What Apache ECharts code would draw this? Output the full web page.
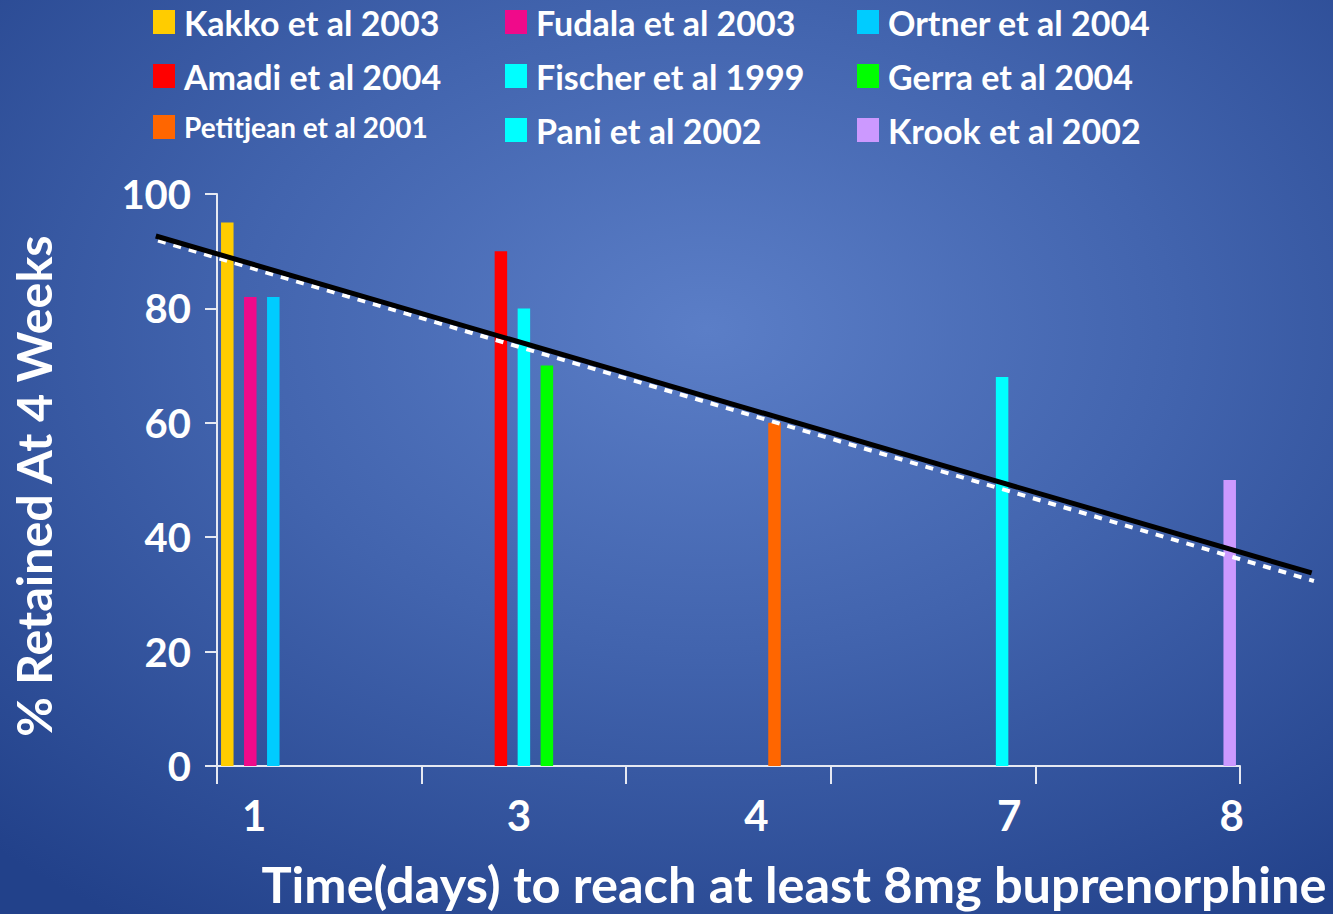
<!DOCTYPE html>
<html>
<head>
<meta charset="utf-8">
<title>Retention at 4 weeks vs. buprenorphine induction speed</title>
<script src="https://cdn.jsdelivr.net/npm/echarts@6.0.0/dist/echarts.min.js"></script>
<style>
  html, body { margin: 0; padding: 0; background: #2c4c93; }
  #chart { width: 1333px; height: 914px; }
</style>
</head>
<body>
<div id="chart"></div>
<script>
// Days needed to reach at least 8 mg buprenorphine (x categories)
const dayCategories = ['1', '3', '4', '7', '8'];

// Studies, in plotting order
const studies = [
  'Kakko et al 2003', 'Fudala et al 2003', 'Ortner et al 2004',
  'Amadi et al 2004', 'Fischer et al 1999', 'Gerra et al 2004',
  'Petitjean et al 2001', 'Pani et al 2002', 'Krook et al 2002'
];
// % retained at 4 weeks for each study
const retained = [95, 82, 82, 90, 80, 70, 60, 68, 50];
// Index into dayCategories for each study
const studyDay = [0, 0, 0, 1, 1, 1, 2, 3, 4];

// Fitted trend lines: endpoints as [position along the day axis, % retained]
// (position 0 = left edge of the first day band, 1 band = 1 unit)
const trendSolid = [[-0.294, 92.7], [5.35, 34.1]];
const trendDashed = [[-0.283, 91.9], [5.361, 32.7]];

// Y ticks
const yTicks = { min: 0, max: 100, step: 20 };

const barColors = ['#FFCC00', '#F00A8A', '#00CCFF', '#FF0000', '#00FFFF',
                   '#00FF00', '#FF6600', '#00FFFF', '#CC99FF'];

const FONT = 'Lato';
const AXIS_COLOR = '#e6e9f2';

// Plot area and the wider overlay area the trend lines run across
const PLOT = { left: 216, right: 93, top: 194, bottom: 145 };
const BAND = (1333 - PLOT.left - PLOT.right) / dayCategories.length;
const TREND_RANGE = [-0.3, 5.4];

// Horizontal nudges for the day labels (px, relative to band centre)
const labelShift = [-65, -5, 28, 76, 94];
const labelRich = {};
labelShift.forEach((d, i) => {
  labelRich['d' + i] = {
    color: '#ffffff', fontFamily: FONT, fontWeight: 'bold', fontSize: 42,
    padding: d < 0 ? [0, -2 * d, 0, 0] : [0, 0, 0, 2 * d]
  };
});

const barSeries = studies.map((name, k) => ({
  name: name,
  type: 'bar',
  xAxisIndex: 0,
  yAxisIndex: 0,
  barWidth: 12.5,
  barGap: '84%',
  itemStyle: { color: barColors[k] },
  data: dayCategories.map((c, i) => (i === studyDay[k] ? retained[k] : '-')),
  z: 2
}));

const legendText = {
  color: '#ffffff', fontFamily: FONT, fontWeight: 'bold', fontSize: 34,
  padding: [0, 0, 0, 4]
};
function legendColumn(left, names) {
  return {
    orient: 'vertical',
    left: left,
    top: 5,
    padding: 0,
    itemWidth: 22,
    itemHeight: 24,
    itemGap: 20,
    icon: 'rect',
    selectedMode: false,
    textStyle: legendText,
    data: names.map(n => n === 'Petitjean et al 2001'
      ? { name: n, textStyle: { fontSize: 28, padding: [0, 0, 0, 4] } }
      : { name: n })
  };
}

const option = {
  backgroundColor: {
    type: 'radial', x: 0.53, y: 0.36, r: 0.78,
    colorStops: [
      { offset: 0, color: '#5b7ec7' },
      { offset: 0.45, color: '#4264ae' },
      { offset: 1, color: '#22418a' }
    ]
  },
  animation: false,
  legend: [
    legendColumn(153, [studies[0], studies[3], studies[6]]),
    legendColumn(505, [studies[1], studies[4], studies[7]]),
    legendColumn(857, [studies[2], studies[5], studies[8]])
  ],
  grid: [
    { left: PLOT.left, right: PLOT.right, top: PLOT.top, bottom: PLOT.bottom, containLabel: false },
    {
      left: PLOT.left + TREND_RANGE[0] * BAND,
      right: 1333 - (PLOT.left + TREND_RANGE[1] * BAND),
      top: PLOT.top, bottom: PLOT.bottom, containLabel: false
    }
  ],
  xAxis: [
    {
      type: 'category',
      gridIndex: 0,
      data: dayCategories,
      boundaryGap: true,
      axisLine: { show: true, lineStyle: { color: AXIS_COLOR, width: 2 } },
      axisTick: { show: true, length: 18, lineStyle: { color: AXIS_COLOR, width: 2 } },
      axisLabel: {
        interval: 0,
        margin: 28,
        formatter: (v, i) => '{d' + i + '|' + v + '}',
        rich: labelRich
      },
      splitLine: { show: false },
      name: 'Time(days) to reach at least 8mg buprenorphine',
      nameLocation: 'middle',
      nameGap: 92,
      nameTextStyle: {
        color: '#ffffff', fontFamily: FONT, fontWeight: 'bold', fontSize: 50.5,
        padding: [0, 0, 0, 131]
      }
    },
    {
      // Continuous day-position axis used by the trend lines
      type: 'value',
      gridIndex: 1,
      show: false,
      min: TREND_RANGE[0],
      max: TREND_RANGE[1]
    }
  ],
  yAxis: [
    {
      type: 'value',
      gridIndex: 0,
      min: yTicks.min,
      max: yTicks.max,
      interval: yTicks.step,
      axisLine: { show: true, lineStyle: { color: AXIS_COLOR, width: 2 } },
      axisTick: { show: true, length: 12, lineStyle: { color: AXIS_COLOR, width: 2 } },
      axisLabel: {
        color: '#ffffff', fontFamily: FONT, fontWeight: 'bold', fontSize: 40, margin: 26
      },
      splitLine: { show: false },
      name: '% Retained At 4 Weeks',
      nameLocation: 'middle',
      nameRotate: 90,
      nameGap: 160,
      nameTextStyle: {
        color: '#ffffff', fontFamily: FONT, fontWeight: 'bold', fontSize: 48.5,
        padding: [0, 12, 0, 0]
      }
    },
    {
      type: 'value',
      gridIndex: 1,
      show: false,
      min: yTicks.min,
      max: yTicks.max
    }
  ],
  series: barSeries.concat([
    {
      name: 'trend-dashed',
      type: 'line',
      xAxisIndex: 1,
      yAxisIndex: 1,
      data: trendDashed,
      symbol: 'none',
      silent: true,
      lineStyle: { color: '#ffffff', width: 4, type: [8, 8] },
      z: 5
    },
    {
      name: 'trend-solid',
      type: 'line',
      xAxisIndex: 1,
      yAxisIndex: 1,
      data: trendSolid,
      symbol: 'none',
      silent: true,
      lineStyle: { color: '#000000', width: 5 },
      z: 6
    }
  ])
};

const chart = echarts.init(document.getElementById('chart'), null, { renderer: 'svg' });
chart.setOption(option);
</script>
</body>
</html>
